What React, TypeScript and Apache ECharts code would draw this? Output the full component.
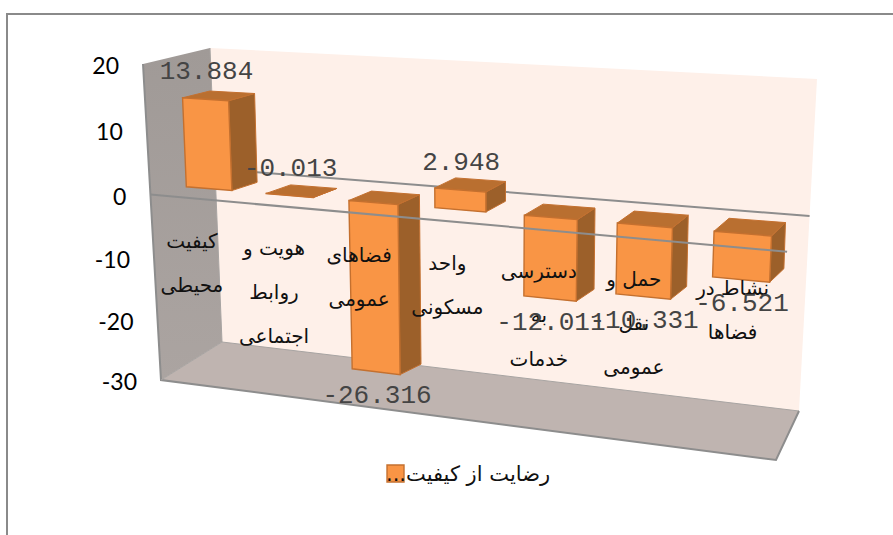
import React, { useEffect, useRef } from "react";
import * as echarts from "echarts";

const categories = [
  "کیفیت\nمحیطی",
  "هویت و\nروابط\nاجتماعی",
  "فضاهای\nعمومی",
  "واحد\nمسکونی",
  "دسترسی\nبه\nخدمات",
  "حمل و\nنقل\nعمومی",
  "نشاط در\nفضاها",
];
const satisfaction = [13.884, -0.013, -26.316, 2.948, -12.011, -10.331, -6.521];
const valueLabels = ["13.884", "-0.013", "-26.316", "2.948", "-12.011", "-10.331", "-6.521"];
const yTicks = [20, 10, 0, -10, -20, -30];
const seriesName = "...رضایت از کیفیت";

type Pt = [number, number];

// Maps the unit square to a quad: the perspective of the picture.
function quadMap(q: Pt[]) {
  const [[x0, y0], [x1, y1], [x2, y2], [x3, y3]] = q;
  const dx1 = x1 - x2, dx2 = x3 - x2, sx = x0 - x1 + x2 - x3;
  const dy1 = y1 - y2, dy2 = y3 - y2, sy = y0 - y1 + y2 - y3;
  const den = dx1 * dy2 - dx2 * dy1;
  const g = (sx * dy2 - dx2 * sy) / den;
  const h = (dx1 * sy - sx * dy1) / den;
  const a = x1 - x0 + g * x1, b = x3 - x0 + h * x3;
  const d = y1 - y0 + g * y1, e = y3 - y0 + h * y3;
  return (u: number, v: number): Pt => {
    const w = g * u + h * v + 1;
    return [(a * u + b * v + x0) / w, (d * u + e * v + y0) / w];
  };
}

const wallFront = quadMap([[143, 64], [795, 104], [776, 460], [161, 380]]);
const wallBack = quadMap([[210, 48], [817, 79], [799, 411], [222, 342]]);
const barFront = quadMap([[164, 57], [799.5, 91.5], [784, 446.5], [178, 369.5]]);
const barBack = quadMap([[192, 51], [812, 79], [799, 433], [203, 361]]);

const BAR_HALF = 0.2875;
const GREY = "#8D8D8D";

function norm(api: any, cs: any, cat: number, val: number, bandOffset = 0): Pt {
  const p = api.coord([cat, val]);
  const band = api.size([1, 0])[0];
  return [(p[0] + bandOffset * band - cs.x) / cs.width, (p[1] - cs.y) / cs.height];
}

const poly = (points: Pt[], fill: string, stroke?: string, lineWidth = 1) => ({
  type: "polygon",
  shape: { points },
  style: { fill, stroke: stroke || "none", lineWidth },
});

function renderWalls(params: any, api: any) {
  const cs = params.coordSys;
  const vt = norm(api, cs, 0, 20)[1];
  const vb = norm(api, cs, 0, -30)[1];
  const ftl = wallFront(0, vt), fbr = wallFront(1, vb), fbl = wallFront(0, vb);
  const btl = wallBack(0, vt), btr = wallBack(1, vt), bbr = wallBack(1, vb), bbl = wallBack(0, vb);
  const v0 = norm(api, cs, 0, 0)[1];
  return {
    type: "group",
    children: [
      poly([btl, btr, bbr, bbl], "#FEF0E9"),
      {
        type: "polygon",
        shape: { points: [ftl, btl, bbl, fbl] },
        style: {
          fill: new echarts.graphic.LinearGradient(0, 0, 0, 1, [
            { offset: 0, color: "#A09A97" },
            { offset: 1, color: "#ABA4A1" },
          ]),
        },
      },
      poly([fbl, bbl, bbr, fbr], "#BFB4B0"),
      { type: "polyline", shape: { points: [btl, bbl, bbr] }, style: { fill: "none", stroke: "#A8A4A2", lineWidth: 1 } },
      { type: "polyline", shape: { points: [ftl, fbl, fbr, bbr] }, style: { fill: "none", stroke: GREY, lineWidth: 2 } },
      { type: "line", shape: { x1: bbl[0], y1: bbl[1], x2: fbl[0], y2: fbl[1] }, style: { stroke: "#A8A4A2", lineWidth: 1 } },
      { type: "polyline", shape: { points: [wallBack(0, v0), wallBack(1, v0)] }, style: { fill: "none", stroke: GREY, lineWidth: 2 } },
    ],
  };
}

function renderBar(params: any, api: any) {
  const cs = params.coordSys;
  const cat = api.value(0);
  const val = api.value(1);
  const top = Math.max(val, 0);
  const bot = Math.min(val, 0);
  const nTL = norm(api, cs, cat, top, -BAR_HALF);
  const nTR = norm(api, cs, cat, top, BAR_HALF);
  const nBL = norm(api, cs, cat, bot, -BAR_HALF);
  const nBR = norm(api, cs, cat, bot, BAR_HALF);
  const f = (n: Pt) => barFront(n[0], n[1]);
  const b = (n: Pt) => barBack(n[0], n[1]);
  const edge = "#C4702F";
  return {
    type: "group",
    children: [
      poly([f(nTR), b(nTR), b(nBR), f(nBR)], "#9C602A", edge),
      poly([f(nTL), b(nTL), b(nTR), f(nTR)], "#B96F30", edge),
      poly([f(nTL), f(nTR), f(nBR), f(nBL)], "#F99545", edge, 1.4),
    ],
  };
}

function renderFrontZero(params: any, api: any) {
  const cs = params.coordSys;
  const v0 = norm(api, cs, 0, 0)[1];
  return {
    type: "polyline",
    shape: { points: [wallFront(0, v0), wallFront(1, v0)] },
    style: { fill: "none", stroke: GREY, lineWidth: 2 },
  };
}

function renderValueLabel(params: any, api: any) {
  const cs = params.coordSys;
  const cat = api.value(0);
  const val = api.value(1);
  const n = norm(api, cs, cat, val);
  const p = barFront(n[0], n[1]);
  const above = Math.round(val) >= 0;
  return {
    type: "text",
    style: {
      x: p[0] + 1,
      y: p[1] + (above ? -27 : 24),
      text: valueLabels[params.dataIndex],
      fill: "#444",
      font: '26px "Liberation Mono"',
      align: "center",
      verticalAlign: "middle",
    },
  };
}

function renderCategoryLabel(params: any, api: any) {
  const cs = params.coordSys;
  const n = norm(api, cs, api.value(0), -7);
  const p = wallFront(n[0], n[1]);
  return {
    type: "text",
    style: {
      x: p[0] - 1,
      y: p[1] - 23 - (1 + (p[0] - 193) * 0.013),
      text: categories[params.dataIndex],
      fill: "#111",
      font: '20px "DejaVu Sans"',
      lineHeight: 44,
      align: "center",
      verticalAlign: "top",
    },
  };
}

function renderTick(params: any, api: any) {
  const cs = params.coordSys;
  const n = norm(api, cs, 0, api.value(1));
  const left = wallFront(0, n[1]);
  return {
    type: "text",
    style: {
      x: left[0] - 24,
      y: left[1] + 1,
      text: String(yTicks[params.dataIndex]),
      fill: "#000",
      font: "23px Lato",
      align: "right",
      verticalAlign: "middle",
    },
  };
}

export default function App() {
  const ref = useRef<HTMLDivElement>(null);
  useEffect(() => {
    const chart = echarts.init(ref.current!, undefined, { renderer: "svg" });
    const barData = satisfaction.map((v, i) => [i, v]);
    chart.setOption({
      animation: false,
      backgroundColor: "#fff",
      grid: { left: 150, top: 60, width: 640, height: 320 },
      xAxis: { type: "category", data: categories, show: false },
      yAxis: { type: "value", min: -30, max: 20, interval: 10, show: false },
      legend: {
        left: 381,
        top: 458,
        data: [seriesName],
        icon: "rect",
        itemWidth: 17,
        itemHeight: 17,
        itemStyle: { color: "#F99545", borderColor: "#C4702F", borderWidth: 1.4 },
        textStyle: { fontFamily: "DejaVu Sans", fontSize: 21, color: "#111", padding: [6, 0, 0, -23] },
      },
      graphic: [
        {
          type: "polyline",
          shape: { points: [[7, 535], [7, 14], [893, 14]] },
          style: { fill: "none", stroke: "#8A8A8A", lineWidth: 2 },
        },
      ],
      series: [
        { type: "custom", name: "walls", z: 1, silent: true, renderItem: renderWalls, data: [[0, 0]], encode: { x: 0, y: 1 } },
        {
          type: "custom",
          name: seriesName,
          z: 2,
          renderItem: renderBar,
          data: barData,
          encode: { x: 0, y: 1 },
          itemStyle: { color: "#F99545" },
        },
        { type: "custom", name: "zero", z: 3, silent: true, renderItem: renderFrontZero, data: [[0, 0]], encode: { x: 0, y: 1 } },
        { type: "custom", name: "categoryLabels", z: 4, silent: true, renderItem: renderCategoryLabel, data: barData, encode: { x: 0, y: 1 } },
        { type: "custom", name: "valueLabels", z: 5, silent: true, renderItem: renderValueLabel, data: barData, encode: { x: 0, y: 1 } },
        { type: "custom", name: "ticks", z: 5, silent: true, renderItem: renderTick, data: yTicks.map((t) => [0, t]), encode: { x: 0, y: 1 } },
      ],
    });
    return () => chart.dispose();
  }, []);
  return <div ref={ref} style={{ position: "fixed", left: 0, top: 0, width: 893, height: 535 }} />;
}
